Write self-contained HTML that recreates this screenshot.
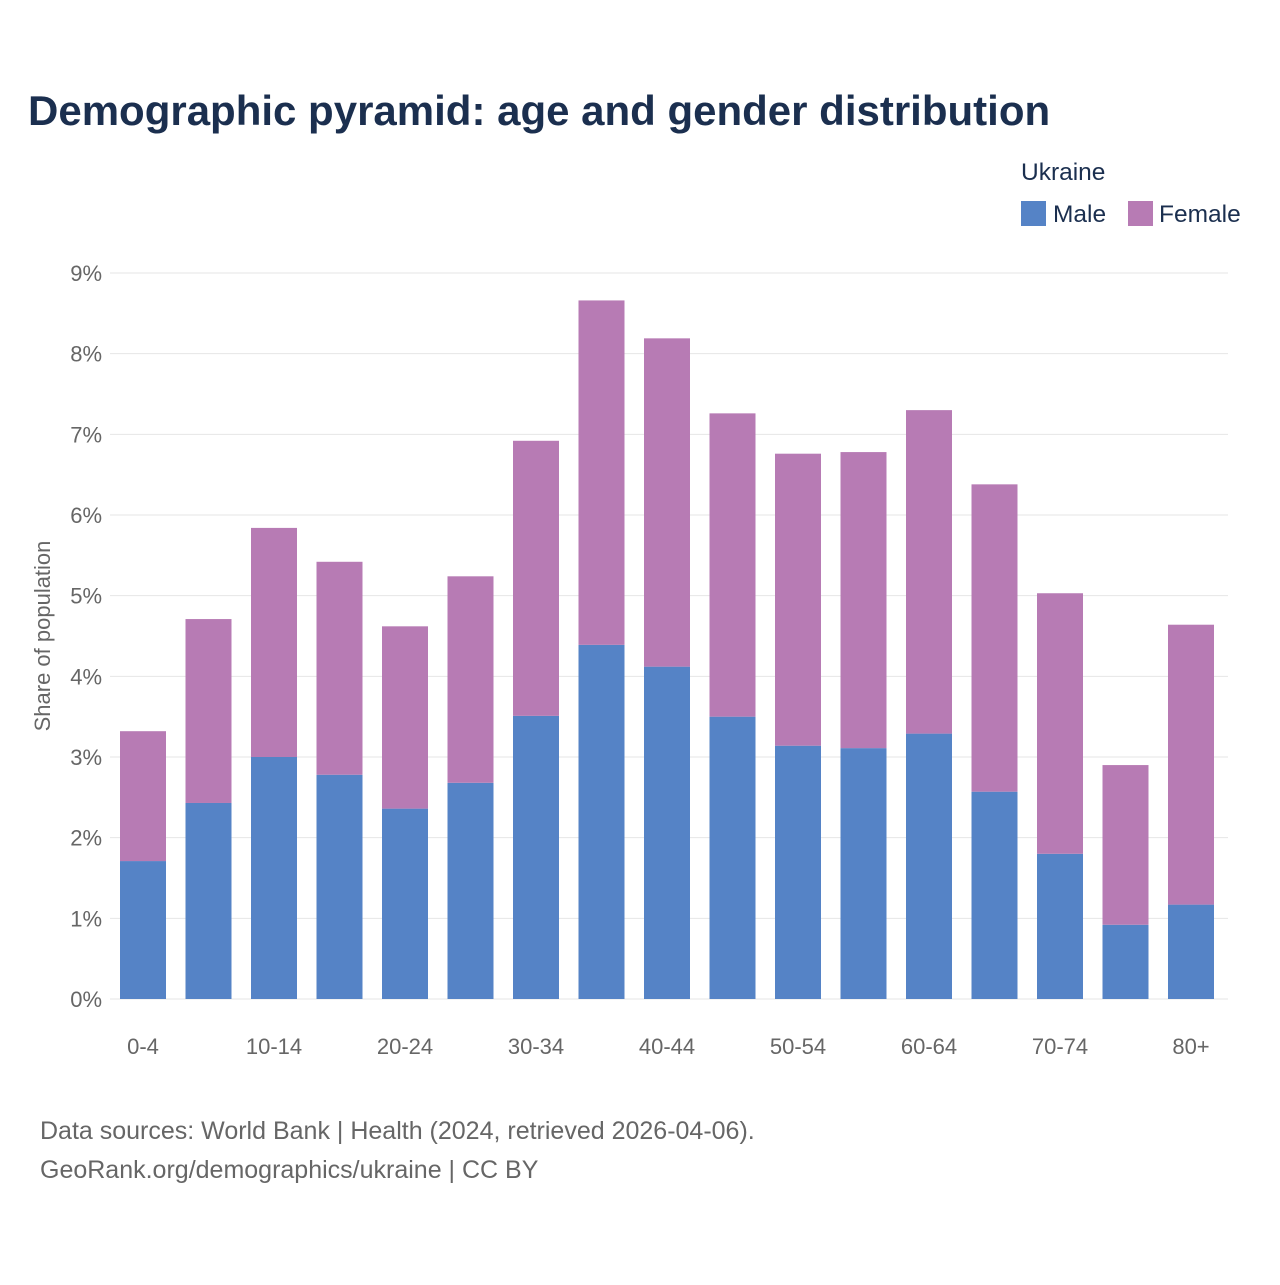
<!DOCTYPE html>
<html><head><meta charset="utf-8"><style>
body{margin:0;background:#fff;width:1280px;height:1280px;overflow:hidden;font-family:"Liberation Sans",sans-serif}
</style></head><body>
<svg width="1280" height="1280" id="chart" xmlns="http://www.w3.org/2000/svg">
<text x="28" y="125" font-size="42" font-weight="bold" fill="#1b2f4f">Demographic pyramid: age and gender distribution</text>
<text x="1021" y="180" font-size="24.5" fill="#1b2f4f">Ukraine</text>
<rect x="1021" y="201" width="25" height="25" fill="#5583c6"/>
<text x="1053" y="222" font-size="24.5" fill="#1b2f4f">Male</text>
<rect x="1128" y="201" width="25" height="25" fill="#b77bb4"/>
<text x="1159" y="222" font-size="24.5" fill="#1b2f4f">Female</text>
<text transform="translate(50,636) rotate(-90)" text-anchor="middle" font-size="22" fill="#666">Share of population</text>
<g id="grid"></g><g id="bars"></g><g id="xt"></g>
<text x="40" y="1139" font-size="25" fill="#666">Data sources: World Bank | Health (2024, retrieved 2026-04-06).</text>
<text x="40" y="1178" font-size="25" fill="#666">GeoRank.org/demographics/ukraine | CC BY</text>
</svg>
<script>
const categories=["0-4","5-9","10-14","15-19","20-24","25-29","30-34","35-39","40-44","45-49","50-54","55-59","60-64","65-69","70-74","75-79","80+"];
const maleValues=[1.71,2.43,3.00,2.78,2.36,2.68,3.51,4.39,4.12,3.50,3.14,3.11,3.29,2.57,1.80,0.92,1.17];
const femaleValues=[1.61,2.28,2.84,2.64,2.26,2.56,3.41,4.27,4.07,3.76,3.62,3.67,4.01,3.81,3.23,1.98,3.47];
const yTicks=[0,1,2,3,4,5,6,7,8,9];
const NS="http://www.w3.org/2000/svg";
const x0=110,x1=1228,yBase=999,yTop=273,yMax=9;
const step=65.5,firstCenter=143,bw=46;
const y=v=>yBase-(v/yMax)*(yBase-yTop);
const xc=i=>firstCenter+step*i;
function mk(tag,attrs,parent){const e=document.createElementNS(NS,tag);for(const k in attrs)e.setAttribute(k,attrs[k]);parent.appendChild(e);return e;}
const g=document.getElementById('grid'),b=document.getElementById('bars'),xt=document.getElementById('xt');
yTicks.forEach(t=>{
 const l=mk('line',{x1:x0,x2:x1,y1:y(t),y2:y(t),stroke:'#e6e6e6','stroke-width':1},g);
 
 
 const tx=mk('text',{x:102,y:y(t)+8,'text-anchor':'end','font-size':22,fill:'#666'},g);
 tx.textContent=t+'%';
 
 
});
categories.forEach((c,i)=>{
 const m=maleValues[i],f=femaleValues[i];
 const rm=mk('rect',{x:xc(i)-bw/2,y:y(m),width:bw,height:yBase-y(m),fill:'#5583c6'},b);
 
 
 const rf=mk('rect',{x:xc(i)-bw/2,y:y(m+f),width:bw,height:y(m)-y(m+f),fill:'#b77bb4'},b);
 
 
 if(i%2===0){
  const t=mk('text',{x:xc(i),y:1054,'text-anchor':'middle','font-size':22,fill:'#666'},xt);
  t.textContent=c;
  
  
 }
});
</script>
</body></html>
